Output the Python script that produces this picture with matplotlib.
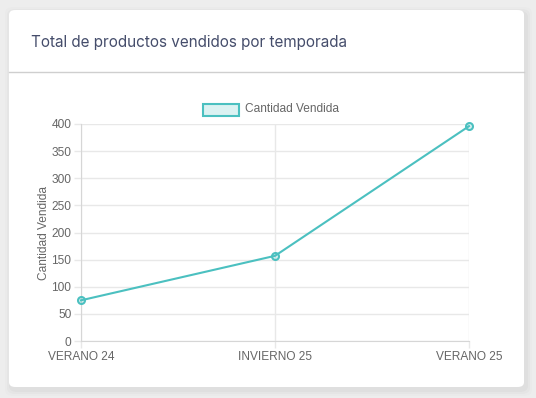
import matplotlib.pyplot as plt
from matplotlib.patches import FancyBboxPatch, Rectangle
from matplotlib.lines import Line2D

seasons = ["VERANO 24", "INVIERNO 25", "VERANO 25"]
units_sold = [75, 157, 396]
y_ticks = [0, 50, 100, 150, 200, 250, 300, 350, 400]

TEAL = (75 / 255, 192 / 255, 192 / 255)
TEAL_LIGHT = (75 / 255, 192 / 255, 192 / 255, 0.2)
W, H = 536, 398


def px(x, y):
    # pixel coords (top-left origin) -> figure fraction
    return x / W, 1 - y / H


fig = plt.figure(figsize=(W / 100, H / 100), dpi=100)
fig.patch.set_facecolor("#ededed")

# soft card shadow, then the card itself
for grow, alpha in [(6, 0.012), (4, 0.018), (2, 0.025)]:
    x0, y0 = px(9 - grow + 2, 387 + grow + 3)
    fig.patches.append(FancyBboxPatch((x0, y0), (515 + 2 * grow) / W, (377 + 2 * grow) / H,
                                      boxstyle="round,pad=0,rounding_size=0.015",
                                      transform=fig.transFigure, fc=(0, 0, 0, alpha), ec="none", zorder=0))
x0, y0 = px(9, 387)
fig.patches.append(FancyBboxPatch((x0, y0), 515 / W, 377 / H,
                                  boxstyle="round,pad=0,rounding_size=0.012",
                                  transform=fig.transFigure, fc="white", ec="none", zorder=1))

# header
tx, ty = px(31, 42)
fig.text(tx, ty, "Total de productos vendidos por temporada", family="Inter",
         fontsize=11, color="#454d6b", va="center", ha="left", zorder=3)
lx0, ly = px(9, 72)
lx1, _ = px(524, 72)
fig.lines.append(Line2D([lx0, lx1], [ly, ly], transform=fig.transFigure,
                        color="#cfcfcf", lw=1, zorder=3))

# chart
ax = fig.add_axes([81 / W, 1 - 341 / H, (469 - 81) / W, (341 - 124) / H])
ax.set_zorder(4)
ax.patch.set_alpha(0)
x = list(range(len(seasons)))
ax.plot(x, units_sold, color=TEAL, lw=1.5, marker="o", markersize=5,
        markerfacecolor=TEAL_LIGHT, markeredgecolor=TEAL, markeredgewidth=1.5,
        clip_on=False, zorder=5)

ax.set_xlim(0, 2)
ax.set_ylim(0, 400)
ax.set_xticks(x)
ax.set_xticklabels(seasons)
ax.set_yticks(y_ticks)
ax.grid(True, color="#e8e8e8", lw=1)
ax.set_axisbelow(True)
for side in ["top", "right"]:
    ax.spines[side].set_visible(False)
for side in ["left", "bottom"]:
    ax.spines[side].set_color("#d6d6d6")
ax.tick_params(axis="both", colors="#e8e8e8", length=5, width=1,
               labelcolor="#666666", labelsize=8.6, pad=2)
for lab in ax.get_xticklabels() + ax.get_yticklabels():
    lab.set_family("Liberation Sans")
ax.set_ylabel("Cantidad Vendida", family="Liberation Sans", fontsize=8.6,
              color="#666666", labelpad=1)

# legend
bx, by = px(203, 116)
fig.patches.append(Rectangle((bx, by), 36 / W, 12 / H, transform=fig.transFigure,
                             fc=TEAL_LIGHT, ec=TEAL, lw=1.5, zorder=5))
ltx, lty = px(245, 109)
fig.text(ltx, lty, "Cantidad Vendida", family="Liberation Sans", fontsize=8.6,
         color="#666666", va="center", ha="left", zorder=5)

fig.savefig("out.png", dpi=100)
